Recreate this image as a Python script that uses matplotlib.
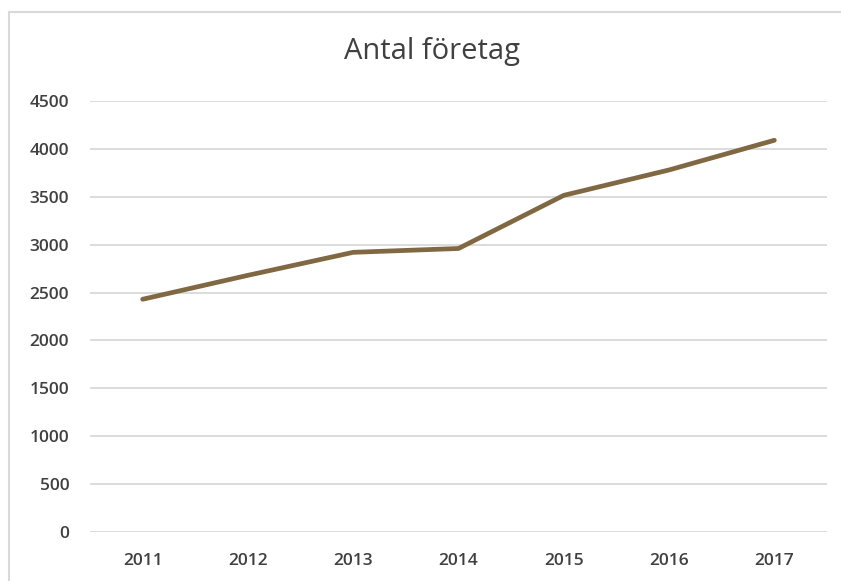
import matplotlib.pyplot as plt
from matplotlib.patches import Rectangle

years = ["2011", "2012", "2013", "2014", "2015", "2016", "2017"]
antal = [2430, 2680, 2920, 2960, 3515, 3780, 4090]
yticks = [0, 500, 1000, 1500, 2000, 2500, 3000, 3500, 4000, 4500]

plt.rcParams['font.family'] = ['Open Sans', 'DejaVu Sans']

fig = plt.figure(figsize=(8.41, 5.81), dpi=100)

# chart area border (cut off on the right and bottom like the screenshot)
fig.patches.append(Rectangle((9 / 841, -0.05), 1.0, 1 - 12 / 581 + 0.05,
                             transform=fig.transFigure, fill=False,
                             edgecolor="#d9d9d9", linewidth=1.5))

ax = fig.add_axes([90 / 841, 1 - 532 / 581, (827 - 90) / 841, (532 - 101) / 581])
x = range(len(years))
ax.plot(x, antal, color="#806843", linewidth=3.4, solid_capstyle="round")

ax.set_xlim(-0.5, len(years) - 0.5)
ax.set_ylim(0, 4500)
ax.set_yticks(yticks)
ax.set_yticklabels([str(v) for v in yticks])
ax.set_xticks(list(x))
ax.set_xticklabels(years)
ax.grid(axis="y", color="#d9d9d9", linewidth=1.3)
ax.set_axisbelow(True)
for s in ax.spines.values():
    s.set_visible(False)
ax.tick_params(length=0, labelsize=12.5, labelcolor="#404040")
ax.tick_params(axis="y", pad=15)
ax.tick_params(axis="x", pad=15)
for lab in ax.get_xticklabels() + ax.get_yticklabels():
    lab.set_fontweight("semibold")

fig.text(432 / 841, 1 - 52 / 581, "Antal företag", ha="center", va="center",
         fontsize=21, color="#404040")

fig.savefig("out.png", dpi=100)
